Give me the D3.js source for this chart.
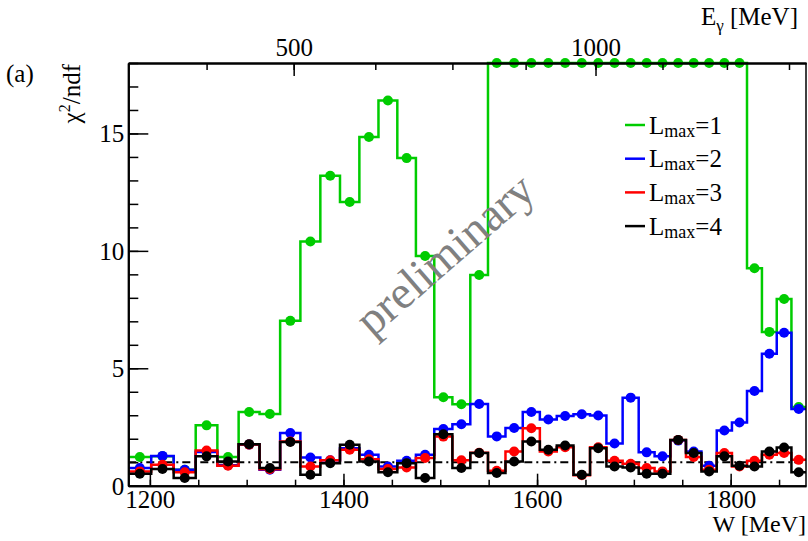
<!DOCTYPE html>
<html>
<head>
<meta charset="utf-8">
<script src="https://cdn.jsdelivr.net/npm/d3@7"></script>
<style>
body { margin: 0; background: #fff; }
svg text { font-family: "Liberation Serif", "DejaVu Serif", serif; fill: #000; }
</style>
</head>
<body>
<svg id="chart" width="808" height="541"></svg>
<script>
// photon energy bins (MeV), 30 MeV wide
const eGammaCenters = [285, 315, 345, 375, 405, 435, 465, 495, 525, 555, 585, 615, 645, 675, 705, 735, 765, 795, 825,
  855, 885, 915, 945, 975, 1005, 1035, 1065, 1095, 1125, 1155, 1185, 1215, 1245, 1275, 1305, 1335, 1365, 1395];
const binHalfWidth = 15;

// chi2/ndf per bin (values above 18 are drawn on the frame edge)
const lmax1 = [1.22, 1.25, 0.68, 2.57, 1.22, 3.14, 3.05, 7.02, 10.4, 13.2, 12.08, 14.85, 16.4, 13.95, 9.78, 3.77, 3.47, 8.97,
  18, 18, 18, 18, 18, 18, 18, 18, 18, 18, 18, 18, 18, 18, 18, 18, 9.26, 6.55, 7.95, 3.35];
const lmax2 = [0.75, 1.27, 0.68, 1.43, 0.87, 1.75, 0.68, 2.24, 1.2, 1.08, 1.6, 1.32, 0.82, 1.06, 1.32, 2.41, 2.62, 3.48,
  2.1, 2.46, 3.14, 2.82, 2.97, 3.04, 2.99, 1.8, 3.75, 1.42, 1.25, 1.92, 1.46, 0.85, 2.35, 2.69, 4.03, 5.62, 6.51, 3.27];
const lmax3 = [0.61, 0.89, 0.57, 1.5, 0.85, 1.75, 0.7, 1.88, 0.82, 1.08, 1.53, 1.13, 0.71, 0.78, 1.18, 2.09, 1.08, 1.4,
  0.64, 1.46, 2.45, 1.46, 1.64, 0.45, 1.64, 1.06, 0.93, 0.75, 0.61, 1.95, 1.22, 0.68, 1.39, 0.82, 1.06, 1.32, 1.39, 1.1];
const lmax4 = [0.51, 0.71, 0.33, 1.25, 1.03, 1.77, 0.75, 1.86, 0.47, 0.96, 1.74, 1.03, 0.57, 0.96, 0.33, 2.19, 0.75, 1.39,
  0.54, 1.03, 1.88, 1.53, 1.71, 0.47, 1.6, 0.82, 0.78, 0.51, 0.51, 1.95, 1.39, 0.61, 1.25, 0.85, 0.82, 1.46, 1.63, 0.57];

const seriesNames = ['1', '2', '3', '4'];
const seriesColors = ['#00cc00', '#0000ff', '#ff0000', '#000000'];

const wTicksMajor = [1200, 1400, 1600, 1800];
const eTicksMajor = [500, 1000];

const mp = 938.27;
const wOfE = e => Math.sqrt(mp * mp + 2 * mp * e);

const frame = { left: 128.3, right: 806, top: 63, bottom: 485.7 };
const svg = d3.select('#chart');

const x = d3.scaleLinear()
  .domain([wOfE(eGammaCenters[0] - binHalfWidth), wOfE(eGammaCenters[eGammaCenters.length - 1] + binHalfWidth)])
  .range([frame.left, frame.right]);
const y = d3.scaleLinear().domain([0, 18]).range([frame.bottom, frame.top]);

// scale for the top E_gamma axis, going through W
const xE = e => x(wOfE(e));
xE.copy = () => xE;
xE.domain = () => [270, 1410];
xE.range = () => x.range();

// reference line at chi2/ndf = 1
svg.append('line')
  .attr('x1', frame.left).attr('x2', frame.right)
  .attr('y1', y(1)).attr('y2', y(1))
  .attr('stroke', '#000').attr('stroke-width', 2)
  .attr('stroke-dasharray', '8,4,2,4');

const allSeries = [lmax1, lmax2, lmax3, lmax4];
const line = d3.line().x(d => d[0]).y(d => d[1]);

allSeries.forEach((vals, i) => {
  const pts = [];
  vals.forEach((v, k) => {
    pts.push([x(wOfE(eGammaCenters[k] - binHalfWidth)), y(v)]);
    pts.push([x(wOfE(eGammaCenters[k] + binHalfWidth)), y(v)]);
  });
  const g = svg.append('g');
  g.append('path')
    .attr('d', line(pts))
    .attr('fill', 'none')
    .attr('stroke', seriesColors[i])
    .attr('stroke-width', 2.5);
  g.selectAll('circle')
    .data(vals)
    .join('circle')
    .attr('cx', (v, k) => x(wOfE(eGammaCenters[k])))
    .attr('cy', v => y(v))
    .attr('r', 5)
    .attr('fill', seriesColors[i]);
});

// axes
function styleAxis(g) {
  g.selectAll('path.domain').attr('stroke', '#000').attr('stroke-width', 2);
  g.selectAll('.tick line').attr('stroke', '#000').attr('stroke-width', 1.5);
  g.selectAll('.tick text').style('font-family', '"Liberation Serif", serif').attr('fill', '#000');
}

svg.append('g').attr('transform', `translate(0,${frame.bottom})`)
  .call(d3.axisBottom(x).tickValues(d3.range(1200, 1876, 50)).tickSize(-6).tickFormat('').tickSizeOuter(0))
  .call(styleAxis);
svg.append('g').attr('transform', `translate(0,${frame.bottom})`)
  .call(d3.axisBottom(x).tickValues(wTicksMajor).tickSize(-12).tickSizeOuter(0).tickFormat(d3.format('d')))
  .call(styleAxis)
  .call(g => g.selectAll('.tick text').attr('font-size', 25).attr('dy', null).attr('y', 22));

svg.append('g').attr('transform', `translate(${frame.left},0)`)
  .call(d3.axisLeft(y).tickValues(d3.range(0, 19, 1)).tickSize(-10).tickFormat('').tickSizeOuter(0))
  .call(styleAxis);
svg.append('g').attr('transform', `translate(${frame.left},0)`)
  .call(d3.axisLeft(y).tickValues([0, 5, 10, 15]).tickSize(-20).tickSizeOuter(0))
  .call(styleAxis)
  .call(g => g.selectAll('.tick text').attr('font-size', 25).attr('x', -4).attr('dy', '0.34em'));

svg.append('g').attr('transform', `translate(0,${frame.top})`)
  .call(d3.axisTop(xE).tickValues(d3.range(375, 1410, 125)).tickSize(-7).tickFormat('').tickSizeOuter(0))
  .call(styleAxis);
svg.append('g').attr('transform', `translate(0,${frame.top})`)
  .call(d3.axisTop(xE).tickValues(eTicksMajor).tickSize(-13).tickSizeOuter(0).tickFormat(d3.format('d')))
  .call(styleAxis)
  .call(g => g.selectAll('.tick text').attr('font-size', 25).attr('y', -7));

// right frame edge
svg.append('line').attr('x1', frame.right).attr('x2', frame.right).attr('y1', frame.top).attr('y2', frame.bottom)
  .attr('stroke', '#000').attr('stroke-width', 1.5);

// titles
svg.append('text').attr('x', 806).attr('y', 532).attr('text-anchor', 'end').attr('font-size', 24).text('W [MeV]');
const eTitle = svg.append('text').attr('x', 798).attr('y', 25).attr('text-anchor', 'end').attr('font-size', 25);
eTitle.append('tspan').text('E');
eTitle.append('tspan').attr('font-size', 17).attr('dy', 6).text('γ');
eTitle.append('tspan').attr('dy', -6).text(' [MeV]');

const yTitle = svg.append('text').attr('transform', 'translate(80,64) rotate(-90)')
  .attr('text-anchor', 'end').attr('font-size', 25);
yTitle.append('tspan').text('χ');
yTitle.append('tspan').attr('font-size', 16).attr('dy', -10).text('2');
yTitle.append('tspan').attr('dy', 10).text('/ndf');

svg.append('text').attr('x', 6).attr('y', 82).attr('font-size', 25).text('(a)');

// watermark
svg.append('text')
  .attr('transform', 'translate(448,258) rotate(-41)')
  .attr('text-anchor', 'middle')
  .attr('dominant-baseline', 'middle')
  .attr('font-size', 47)
  .style('fill', '#808080')
  .text('preliminary');

// legend
const legend = svg.append('g');
seriesNames.forEach((name, i) => {
  const ly = 125 + i * 33.7;
  legend.append('line').attr('x1', 625).attr('x2', 645).attr('y1', ly).attr('y2', ly)
    .attr('stroke', seriesColors[i]).attr('stroke-width', 2.5);
  const t = legend.append('text').attr('x', 649).attr('y', ly + 8.5).attr('font-size', 25);
  t.append('tspan').text('L');
  t.append('tspan').attr('font-size', 18).attr('dy', 3).text('max');
  t.append('tspan').attr('dy', -3).text('=' + name);
});
</script>
</body>
</html>
